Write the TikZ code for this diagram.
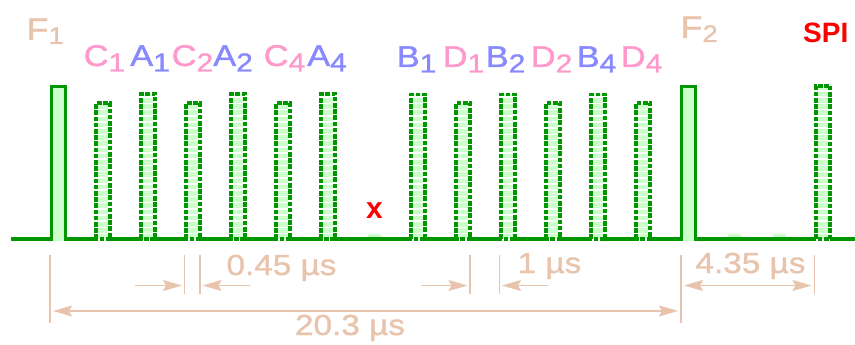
\documentclass[tikz,border=0pt]{standalone}
\usepackage{fontspec}
\setmainfont{Liberation Sans}
\newfontfamily\wf[FakeStretch=1.15,FakeBold=1.2]{Liberation Sans}
\usetikzlibrary{arrows.meta}
\definecolor{tanc}{RGB}{232,196,172}
\definecolor{pinkc}{RGB}{255,153,204}
\definecolor{bluec}{RGB}{136,136,255}
\definecolor{grn}{RGB}{0,150,0}
\definecolor{lgrn}{RGB}{204,255,204}
\definecolor{redc}{RGB}{255,0,0}
\newcommand\subl[1]{\raisebox{-5.5pt}{\fontsize{26}{26}\selectfont #1}}
\newcommand\subf[1]{\raisebox{-4pt}{\fontsize{24}{24}\selectfont #1}}
\tikzset{
  sig/.style={draw=grn, line width=3.4pt},
  dpulse/.style={draw=grn, line width=3.8pt, dash pattern=on 4.6pt off 1.6pt},
  dfill/.style={draw=lgrn, line width=10pt, dash pattern=on 4.6pt off 1.6pt},
  lab/.style={anchor=base west, inner sep=0pt, font=\wf\fontsize{30}{30}\selectfont},
  flab/.style={lab, text=tanc, font=\wf\fontsize{31}{31}\selectfont},
  clab/.style={lab, text=pinkc},
  alab/.style={lab, text=bluec},
  dimtxt/.style={anchor=base, inner sep=0pt, text=tanc, font=\wf\fontsize{29}{29}\selectfont},
  dimline/.style={draw=tanc, line width=1.6pt},
  tip/.tip={Stealth[length=19pt,width=11pt,inset=3pt]},
  dimarrow/.style={draw=tanc, line width=1.6pt, -tip},
  dimboth/.style={draw=tanc, line width=1.6pt, tip-tip},
}
\begin{document}
\begin{tikzpicture}[x=1pt,y=-1pt]
\useasboundingbox (0,0) rectangle (855,345);
% fills of the solid pulses
\fill[lgrn] (51.3,86.5) rectangle (65.3,241);
\fill[lgrn] (681.3,86.3) rectangle (695.3,241);
% small bumps
\foreach \k in {7,15,16}{
  \pgfmathsetmacro\x{51.3+45*\k}
  \fill[lgrn] (\x+1.2,233.5) rectangle (\x+14.2,239);
}
% baseline with the two frame pulses
\draw[sig] (11,239) -- (51.3,239) -- (51.3,86.5) -- (65.3,86.5) -- (65.3,239)
  -- (681.3,239) -- (681.3,86.3) -- (695.3,86.3) -- (695.3,239) -- (855,239);
% dashed pulses
\foreach \k/\t in {1/103.3,2/94.3,3/103.3,4/94.3,5/103.3,6/94.3,8/94.5,9/103,10/94.5,11/103,12/94.5,13/103,17/85.7}{
  \pgfmathsetmacro\x{51.3+45*\k}
  \draw[white, line width=4pt] (\x,239) -- (\x+14,239);
  \draw[dfill] (\x+7,239) -- (\x+7,\t);
  \draw[dpulse] (\x,239) -- (\x,\t) -- (\x+14,\t) -- (\x+14,239) -- cycle;
}
% labels
\node[flab] (f1) at (26.5,40) {F\subf{1}};
\node[clab] (c1) at (83.5,66) {C\subl{1}};
\node[alab] (a1) at (130,66) {A\subl{1}};
\node[clab] (c2) at (171.5,66) {C\subl{2}};
\node[alab] (a2) at (213,66) {A\subl{2}};
\node[clab] (c4) at (263.5,66) {C\subl{4}};
\node[alab] (a4) at (307,66) {A\subl{4}};
\node[alab] (b1) at (396.5,67) {B\subl{1}};
\node[clab] (d1) at (442.5,67) {D\subl{1}};
\node[alab] (b2) at (485.5,67) {B\subl{2}};
\node[clab] (d2) at (530.5,67) {D\subl{2}};
\node[alab] (b4) at (576.5,67) {B\subl{4}};
\node[clab] (d4) at (620.5,67) {D\subl{4}};
\node[flab] (f2) at (680.5,38) {F\subf{2}};
\node[anchor=base west, inner sep=0pt, text=redc, font=\bfseries\fontsize{28}{28}\selectfont] (spi) at (803,43) {SPI};
\node[anchor=base, inner sep=0pt, text=redc, font=\bfseries\fontsize{30}{30}\selectfont] (xm) at (374.5,218) {x};
% extension lines
\coordinate (e1t) at (50,255);    \coordinate (e1b) at (50,323);
\coordinate (e2t) at (184.3,255); \coordinate (e2b) at (184.3,294);
\coordinate (e3t) at (200,255);   \coordinate (e3b) at (200,294);
\coordinate (e4t) at (470,255);   \coordinate (e4b) at (470,294);
\coordinate (e5t) at (499.3,255); \coordinate (e5b) at (499.3,294);
\coordinate (e6t) at (681,255);   \coordinate (e6b) at (681,323);
\coordinate (e7t) at (814.3,255); \coordinate (e7b) at (814.3,294);
\foreach \i in {1,...,7}{\draw[dimline] (e\i t) -- (e\i b);}
% arrows
\coordinate (a045s) at (135,285.5);   \coordinate (a045e) at (182,285.5);
\coordinate (b045s) at (250,285.5);   \coordinate (b045e) at (202.5,285.5);
\coordinate (a1s) at (421,285.5);     \coordinate (a1e) at (467.5,285.5);
\coordinate (b1s) at (548,285.5);     \coordinate (b1e) at (502,285.5);
\coordinate (c1s) at (684,285.5);     \coordinate (c1e) at (811.5,285.5);
\coordinate (d1s) at (53,311);        \coordinate (d1e) at (678,311);
\draw[dimarrow] (a045s) -- (a045e);
\draw[dimarrow] (b045s) -- (b045e);
\draw[dimarrow] (a1s) -- (a1e);
\draw[dimarrow] (b1s) -- (b1e);
\draw[dimboth] (c1s) -- (c1e);
\draw[dimboth] (d1s) -- (d1e);
% dimension texts
\node[dimtxt] (t045) at (281.5,275) {0.45 µs};
\node[dimtxt] (t1) at (549.5,273) {1 µs};
\node[dimtxt] (t435) at (750.5,273) {4.35 µs};
\node[dimtxt] (t203) at (350,335) {20.3 µs};
\end{tikzpicture}
\end{document}
